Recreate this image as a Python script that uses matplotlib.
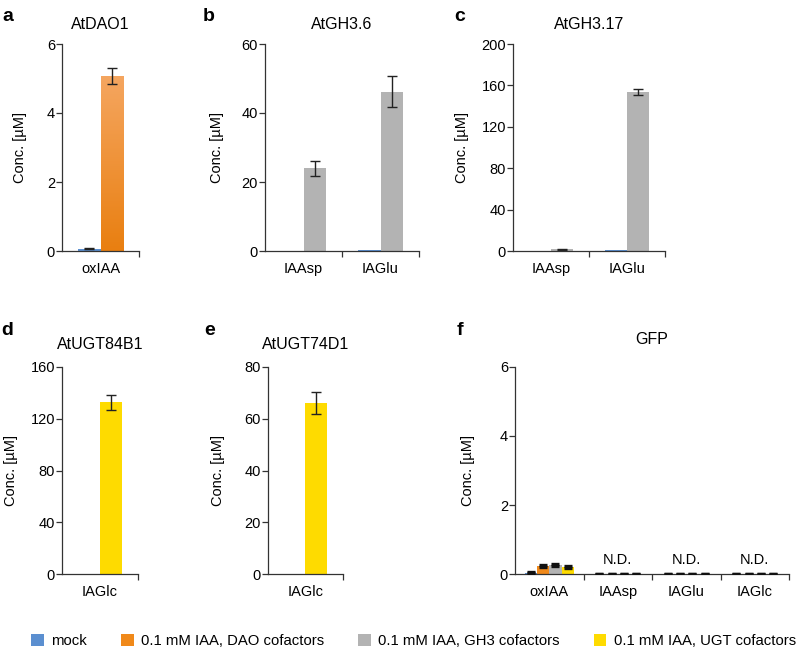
import numpy as np
import matplotlib
matplotlib.use("Agg")
import matplotlib.pyplot as plt
from matplotlib.patches import Patch

plt.rcParams['font.family'] = ['Liberation Sans', 'DejaVu Sans']

# colours of the four conditions
col_mock = '#5b8fd0'
col_dao = '#f0891a'
col_gh3 = '#b3b3b3'
col_ugt = '#fedb00'

legend_labels = ['mock', '0.1 mM IAA, DAO cofactors',
                 '0.1 mM IAA, GH3 cofactors', '0.1 mM IAA, UGT cofactors']

# panel a - AtDAO1
a_cats = ['oxIAA']
a_mock = [0.07]
a_mock_err = [0.01]
a_trt = [5.07]
a_trt_err = [0.22]

# panel b - AtGH3.6
b_cats = ['IAAsp', 'IAGlu']
b_mock = [0.0, 0.3]
b_trt = [24.0, 46.2]
b_trt_err = [2.2, 4.6]

# panel c - AtGH3.17
c_cats = ['IAAsp', 'IAGlu']
c_mock = [0.0, 0.6]
c_trt = [1.5, 153.5]
c_trt_err = [0.5, 3.0]

# panel d - AtUGT84B1
d_cats = ['IAGlc']
d_trt = [132.5]
d_trt_err = [6.0]

# panel e - AtUGT74D1
e_cats = ['IAGlc']
e_trt = [66.0]
e_trt_err = [4.2]

# panel f - GFP (mock, DAO, GH3, UGT)
f_cats = ['oxIAA', 'IAAsp', 'IAGlu', 'IAGlc']
f_vals = [[0.05, 0.0, 0.0, 0.0],
          [0.25, 0.0, 0.0, 0.0],
          [0.28, 0.0, 0.0, 0.0],
          [0.22, 0.0, 0.0, 0.0]]
f_errs = [[0.01, 0.0, 0.0, 0.0],
          [0.03, 0.0, 0.0, 0.0],
          [0.03, 0.0, 0.0, 0.0],
          [0.03, 0.0, 0.0, 0.0]]
f_nd = ['', 'N.D.', 'N.D.', 'N.D.']

W, H = 797, 648
fig = plt.figure(figsize=(W / 100, H / 100), dpi=100)


def make_ax(x0, x1, ytop, ybot):
    return fig.add_axes([x0 / W, 1 - ybot / H, (x1 - x0) / W, (ybot - ytop) / H])


def style(ax, cats, ymax, yticks, title, letter, letter_xy, ylab_x, title_pad=11):
    n = len(cats)
    ax.set_xlim(0, n)
    ax.set_ylim(0, ymax)
    ax.set_yticks(yticks)
    ax.set_xticks(np.arange(n) + 0.5)
    ax.set_xticklabels(cats, fontsize=10.5)
    ax.set_xticks(np.arange(1, n + 1), minor=True)
    ax.tick_params(axis='x', which='major', length=0, pad=8)
    ax.tick_params(axis='x', which='minor', length=4, width=0.9, color='#333333', direction='out')
    ax.tick_params(axis='y', length=4, width=0.9, color='#333333', labelsize=10.5, pad=1)
    for s in ['top', 'right']:
        ax.spines[s].set_visible(False)
    for s in ['left', 'bottom']:
        ax.spines[s].set_color('#333333')
        ax.spines[s].set_linewidth(0.9)
    ax.spines['left'].set_bounds(0, ymax)
    ax.set_ylabel('Conc. [µM]', fontsize=10.5)
    bb = ax.get_position()
    ax.yaxis.set_label_coords((ylab_x + 7) / W, (bb.y0 + bb.y1) / 2,
                              transform=fig.transFigure)
    ax.set_title(title, fontsize=11.5, pad=title_pad)
    fig.text(letter_xy[0] / W, 1 - letter_xy[1] / H, letter, fontsize=14,
             fontweight='bold', ha='left', va='baseline')


ekw = dict(fmt='none', ecolor='#222222', elinewidth=1, capsize=3.5, capthick=1)
w = 0.29

# a
ax = make_ax(62, 139, 44, 251)
x = np.arange(len(a_cats)) + 0.5
ax.bar(x - w / 2, a_mock, w, color=col_mock, zorder=2)
ax.errorbar(x - w / 2, a_mock, yerr=a_mock_err, **ekw)
bars = ax.bar(x + w / 2, a_trt, w, color=col_dao, zorder=2)
# vertical gradient fill on the orange bar
grad = np.linspace(0, 1, 256).reshape(-1, 1)
cmap = matplotlib.colors.LinearSegmentedColormap.from_list('g', ['#e97f10', '#f5a660'])
for b in bars:
    im = ax.imshow(grad, cmap=cmap, aspect='auto', origin='lower', zorder=2.5,
                   extent=[b.get_x(), b.get_x() + b.get_width(), 0, b.get_height()])
    im.set_clip_path(b)
ax.errorbar(x + w / 2, a_trt, yerr=a_trt_err, zorder=3, **ekw)
style(ax, a_cats, 6, [0, 2, 4, 6], 'AtDAO1', 'a', (2, 21), 20)

# b
ax = make_ax(265, 419, 44, 251)
x = np.arange(len(b_cats)) + 0.5
ax.bar(x - w / 2, b_mock, w, color=col_mock)
ax.bar(x + w / 2, b_trt, w, color=col_gh3)
ax.errorbar(x + w / 2, b_trt, yerr=b_trt_err, **ekw)
style(ax, b_cats, 60, [0, 20, 40, 60], 'AtGH3.6', 'b', (203, 21), 217)

# c
ax = make_ax(513, 665, 44, 251)
x = np.arange(len(c_cats)) + 0.5
ax.bar(x - w / 2, c_mock, w, color=col_mock)
ax.bar(x + w / 2, c_trt, w, color=col_gh3)
ax.errorbar(x + w / 2, c_trt, yerr=c_trt_err, **ekw)
style(ax, c_cats, 200, [0, 40, 80, 120, 160, 200], 'AtGH3.17', 'c', (454, 21), 462)

# d
ax = make_ax(62, 138, 366.7, 574.3)
x = np.arange(len(d_cats)) + 0.5
ax.bar(x + w / 2, d_trt, w, color=col_ugt)
ax.errorbar(x + w / 2, d_trt, yerr=d_trt_err, **ekw)
style(ax, d_cats, 160, [0, 40, 80, 120, 160], 'AtUGT84B1', 'd', (1, 335), 11, title_pad=13)

# e
ax = make_ax(267.7, 343, 366.7, 574.3)
x = np.arange(len(e_cats)) + 0.5
ax.bar(x + w / 2, e_trt, w, color=col_ugt)
ax.errorbar(x + w / 2, e_trt, yerr=e_trt_err, **ekw)
style(ax, e_cats, 80, [0, 20, 40, 60, 80], 'AtUGT74D1', 'e', (204, 335), 218, title_pad=13)

# f
ax = make_ax(515, 789, 366.7, 574.3)
x = np.arange(len(f_cats)) + 0.5
wf = 0.18
cols = [col_mock, col_dao, col_gh3, col_ugt]
for i in range(4):
    xi = x + (i - 1.5) * wf
    ax.bar(xi, f_vals[i], wf, color=cols[i], zorder=2)
    ax.errorbar(xi, f_vals[i], yerr=f_errs[i], fmt='none', ecolor='#111111',
                elinewidth=2, capsize=2.6, capthick=2.4, zorder=3)
for xc, t in zip(x, f_nd):
    if t:
        ax.text(xc, 0.2, t, ha='center', va='bottom', fontsize=10.5)
style(ax, f_cats, 6, [0, 2, 4, 6], 'GFP', 'f', (457, 335), 468, title_pad=16)

handles = [Patch(facecolor=c, edgecolor='none') for c in cols]
fig.legend(handles, legend_labels, loc='center left',
           bbox_to_anchor=(31 / W, 1 - 641 / H, (796 - 31) / W, 0), mode='expand',
           ncol=4, frameon=False, fontsize=10.7, handlelength=0.85, handleheight=0.85,
           handletextpad=0.5, borderpad=0, borderaxespad=0)

fig.savefig('out.png', dpi=100)
